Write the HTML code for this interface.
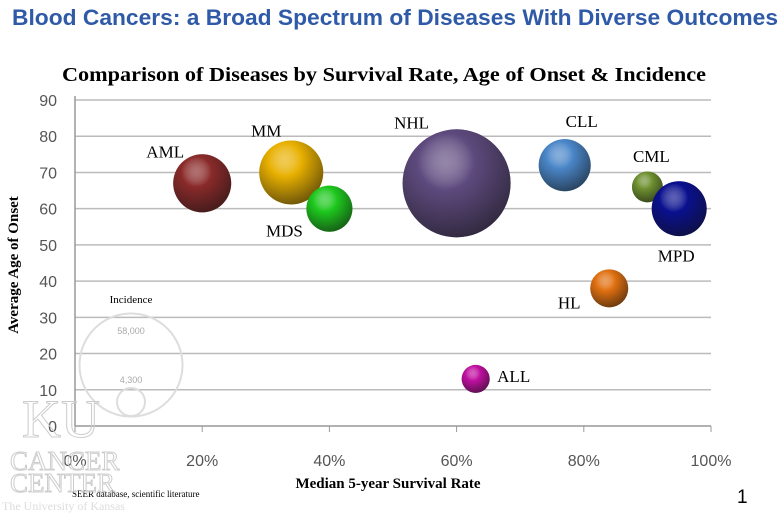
<!DOCTYPE html>
<html><head><meta charset="utf-8"><style>
body{margin:0;width:782px;height:514px;background:#fff;overflow:hidden;font-family:"Liberation Sans",sans-serif}
svg{display:block}
</style></head><body>
<svg width="782" height="514" viewBox="0 0 782 514">
<defs id="defs"></defs>
<text x="12" y="25" textLength="766" lengthAdjust="spacingAndGlyphs" font-size="22" font-weight="bold" fill="#2f5aa8">Blood Cancers: a Broad Spectrum of Diseases With Diverse Outcomes</text>
<text x="62" y="81" textLength="644" lengthAdjust="spacingAndGlyphs" font-family="Liberation Serif,serif" font-size="20" font-weight="bold" fill="#000">Comparison of Diseases by Survival Rate, Age of Onset &amp; Incidence</text>
<g id="grid"></g>
<g id="legend">
<text x="131" y="303" text-anchor="middle" font-family="Liberation Serif,serif" font-size="11" fill="#000">Incidence</text>
<circle cx="131" cy="365" r="51.5" fill="none" stroke="#ddd" stroke-width="2"/>
<text x="131" y="334" text-anchor="middle" font-size="9" fill="#aaa">58,000</text>
<circle cx="131" cy="402" r="14" fill="none" stroke="#ddd" stroke-width="2"/>
<text x="131" y="383" text-anchor="middle" font-size="9" fill="#aaa">4,300</text>
</g>
<g id="bubbles"></g>
<text transform="translate(18,265) rotate(-90)" text-anchor="middle" font-family="Liberation Serif,serif" font-size="15" font-weight="bold" fill="#000">Average Age of Onset</text>
<text x="388" y="488" text-anchor="middle" font-family="Liberation Serif,serif" font-size="15" font-weight="bold" fill="#000">Median 5-year Survival Rate</text>
<text x="72" y="497" font-family="Liberation Serif,serif" font-size="9" fill="#000">SEER database, scientific literature</text>
<g fill="none" stroke="#ccc" stroke-width="1" font-family="Liberation Serif,serif">
<text x="22" y="437" font-size="54">KU</text>
<text x="10" y="470" font-size="27">CANCER</text>
<text x="10" y="492" font-size="27">CENTER</text>
<text x="2" y="510" font-size="12" fill="#ddd" stroke="none">The University of Kansas</text>
</g>
<text x="737" y="503" font-size="19" fill="#000">1</text>
</svg>
<script>
const names=["AML","MM","MDS","NHL","CLL","CML","MPD","HL","ALL"];
const survival=[20,34,40,60,77,90,95,84,63];
const onset=[67,70,60,67,72,66,60,38,13];
const incidence=[18400,22400,11600,63800,14800,5200,16500,7900,4300];
const colors=["#8a2a2a","#e8b000","#1ec81e","#5e4a7e","#4a86c8","#6e9030","#0a108e","#e07010","#c010a0"];
const yTicks=[0,10,20,30,40,50,60,70,80,90];
const xTicks=[0,20,40,60,80,100];
const labelOff=[[-37,-26],[-25,-36],[-45,28],[-45,-55],[17,-38],[4,-25],[-3,53],[-40,20],[38,3]];
const NS="http://www.w3.org/2000/svg";
const X=v=>75+v/100*636, Y=v=>426-v/90*326, R=v=>51.5*Math.sqrt(v/58000);
const grid=document.getElementById('grid'),defs=document.getElementById('defs'),bub=document.getElementById('bubbles');
function mk(t,a,p){const e=document.createElementNS(NS,t);for(const k in a)e.setAttribute(k,a[k]);p.appendChild(e);return e;}
yTicks.forEach(v=>{
 if(v>0){const l=mk('line',{x1:75,x2:711,y1:Y(v),y2:Y(v),stroke:'#bbb','stroke-width':1.5},grid);
 
 }
 const t=mk('text',{x:57,y:Y(v)+6,'text-anchor':'end','font-size':16,fill:'#555'},grid);t.textContent=v;
 
 
});
mk('line',{x1:75,x2:75,y1:96,y2:426,stroke:'#999','stroke-width':1.5},grid);
mk('line',{x1:75,x2:711,y1:426,y2:426,stroke:'#999','stroke-width':1.5},grid);
xTicks.forEach(v=>{
 mk('line',{x1:X(v),x2:X(v),y1:426,y2:432,stroke:'#999'},grid);
 const t=mk('text',{x:X(v),y:466,'text-anchor':'middle','font-size':16,fill:'#555'},grid);t.textContent=v+'%';
 
 
});
names.forEach((n,i)=>{
 const g=mk('radialGradient',{id:'g'+i,cx:'0.4',cy:'0.3',r:'0.75'},defs);
 mk('stop',{offset:'0','stop-color':'#fff','stop-opacity':0.55},g);
 mk('stop',{offset:'0.35','stop-color':colors[i]},g);
 mk('stop',{offset:'1','stop-color':'#111'},g);
 const b=mk('circle',{cx:X(survival[i]),cy:Y(onset[i]),r:R(incidence[i]),fill:colors[i]},bub);
 
 
 mk('circle',{cx:X(survival[i]),cy:Y(onset[i]),r:R(incidence[i]),fill:'url(#g'+i+')','fill-opacity':0.6},bub);
 const t=mk('text',{x:X(survival[i])+labelOff[i][0],y:Y(onset[i])+labelOff[i][1],'text-anchor':'middle','font-family':'Liberation Serif,serif','font-size':17,fill:'#000'},bub);
 t.textContent=n;
 
 
});
</script>
</body></html>
